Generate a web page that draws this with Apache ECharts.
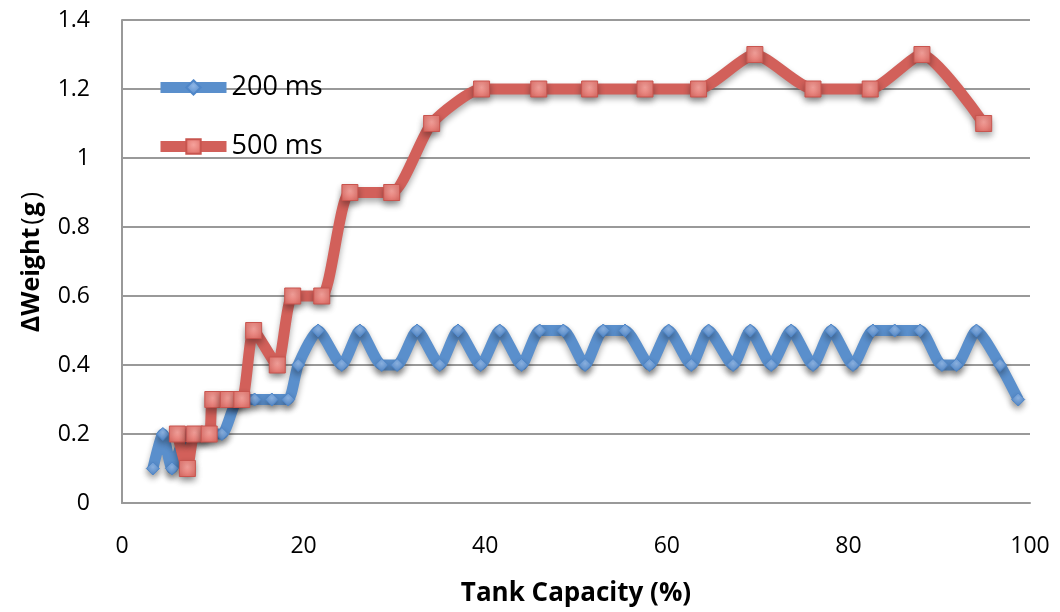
<!DOCTYPE html>
<html>
<head>
<meta charset="utf-8">
<script src="https://cdn.jsdelivr.net/npm/echarts@6/dist/echarts.min.js"></script>
<style>
  html, body { margin: 0; padding: 0; background: #fff; }
  #chart { width: 1060px; height: 612px; }
</style>
</head>
<body>
<div id="chart"></div>
<script>
// Weight change versus tank fill level for two pulse durations
const seriesNames = ['200 ms', '500 ms'];
const xTicks = [0, 20, 40, 60, 80, 100];
const yTicks = [0, 0.2, 0.4, 0.6, 0.8, 1, 1.2, 1.4];

// 200 ms pulses: [tank capacity %, delta weight g]
const capacity200 = [3.4, 4.5, 5.5, 7.2, 9.0, 11.0, 12.8, 14.6, 16.5, 18.3, 19.4, 21.6, 24.2, 26.2, 28.6, 30.3, 32.5, 35.0, 37.0, 39.5, 41.6, 44.0, 46.0, 48.6, 51.0, 53.0, 55.4, 58.1, 60.2, 62.7, 64.6, 67.3, 69.2, 71.5, 73.7, 76.1, 78.1, 80.5, 82.7, 85.1, 87.9, 90.3, 91.9, 94.1, 96.7, 98.7];
const weight200   = [0.1, 0.2, 0.1, 0.2, 0.2, 0.2, 0.3, 0.3, 0.3, 0.3, 0.4, 0.5, 0.4, 0.5, 0.4, 0.4, 0.5, 0.4, 0.5, 0.4, 0.5, 0.4, 0.5, 0.5, 0.4, 0.5, 0.5, 0.4, 0.5, 0.4, 0.5, 0.4, 0.5, 0.4, 0.5, 0.4, 0.5, 0.4, 0.5, 0.5, 0.5, 0.4, 0.4, 0.5, 0.4, 0.3];

// 500 ms pulses
const capacity500 = [6.1, 7.2, 8.0, 9.6, 10.0, 11.7, 13.2, 14.5, 17.1, 18.8, 22.0, 25.1, 29.7, 34.1, 39.6, 45.9, 51.5, 57.6, 63.5, 69.7, 76.1, 82.4, 88.1, 94.9];
const weight500   = [0.2, 0.1, 0.2, 0.2, 0.3, 0.3, 0.3, 0.5, 0.4, 0.6, 0.6, 0.9, 0.9, 1.1, 1.2, 1.2, 1.2, 1.2, 1.2, 1.3, 1.2, 1.2, 1.3, 1.1];

const pairs = (xs, ys) => xs.map((x, i) => [x, ys[i]]);

const blue = '#5a8fcc';
const red = '#d2605a';
const shadow = { shadowColor: 'rgba(0,0,0,0.33)', shadowBlur: 6, shadowOffsetY: 4 };

const chart = echarts.init(document.getElementById('chart'), null, { renderer: 'canvas' });

chart.setOption({
  animation: false,
  backgroundColor: '#ffffff',
  grid: { left: 122, right: 30, top: 20, bottom: 109, containLabel: false },
  legend: {
    orient: 'vertical',
    left: 155,
    top: 74,
    padding: 0,
    itemWidth: 66,
    itemHeight: 18,
    itemGap: 32,
    data: seriesNames,
    lineStyle: { width: 11 },
    textStyle: { fontFamily: 'Open Sans', fontSize: 27, color: '#000' }
  },
  xAxis: {
    type: 'value',
    min: xTicks[0],
    max: xTicks[xTicks.length - 1],
    interval: 20,
    name: 'Tank Capacity (%)',
    nameLocation: 'middle',
    nameGap: 78,
    nameTextStyle: { fontFamily: 'Open Sans', fontWeight: 'bold', fontSize: 26, color: '#000' },
    axisLine: { lineStyle: { color: '#999', width: 2 } },
    axisTick: { show: false },
    splitLine: { show: false },
    axisLabel: { fontFamily: 'Open Sans', fontSize: 23, color: '#000', margin: 32 }
  },
  yAxis: {
    type: 'value',
    min: yTicks[0],
    max: yTicks[yTicks.length - 1],
    interval: 0.2,
    name: 'ΔWeight{p|(}g{p|)}',
    nameLocation: 'middle',
    nameGap: 78,
    nameTextStyle: {
      fontFamily: 'Open Sans', fontWeight: 'bold', fontSize: 25, color: '#000',
      rich: { p: { fontFamily: 'Open Sans', fontWeight: 'normal', fontSize: 25, color: '#000', padding: [0, 1, 0, 3] } }
    },
    axisLine: { show: true, lineStyle: { color: '#999', width: 2 } },
    axisTick: { show: false },
    splitLine: { lineStyle: { color: '#999', width: 2 } },
    axisLabel: { fontFamily: 'Open Sans', fontSize: 23, color: '#000', margin: 32 }
  },
  series: [
    {
      name: seriesNames[0],
      type: 'line',
      smooth: 0.2,
      data: pairs(capacity200, weight200),
      symbol: 'diamond',
      symbolSize: 13,
      lineStyle: Object.assign({ color: blue, width: 11 }, shadow),
      itemStyle: Object.assign({
        color: {
          type: 'radial', x: 0.5, y: 0.4, r: 0.6,
          colorStops: [{ offset: 0, color: '#8fb6e6' }, { offset: 1, color: '#4f86c8' }]
        },
        borderColor: '#4f86c8',
        borderWidth: 1
      }, shadow)
    },
    {
      name: seriesNames[1],
      type: 'line',
      smooth: 0.2,
      data: pairs(capacity500, weight500),
      symbol: 'rect',
      symbolSize: 16,
      lineStyle: Object.assign({ color: red, width: 11 }, shadow),
      itemStyle: Object.assign({
        color: {
          type: 'radial', x: 0.5, y: 0.4, r: 0.7,
          colorStops: [{ offset: 0, color: '#f6a29c' }, { offset: 1, color: '#dc6a63' }]
        },
        borderColor: '#c8554f',
        borderWidth: 1
      }, shadow)
    }
  ]
});
</script>
</body>
</html>
